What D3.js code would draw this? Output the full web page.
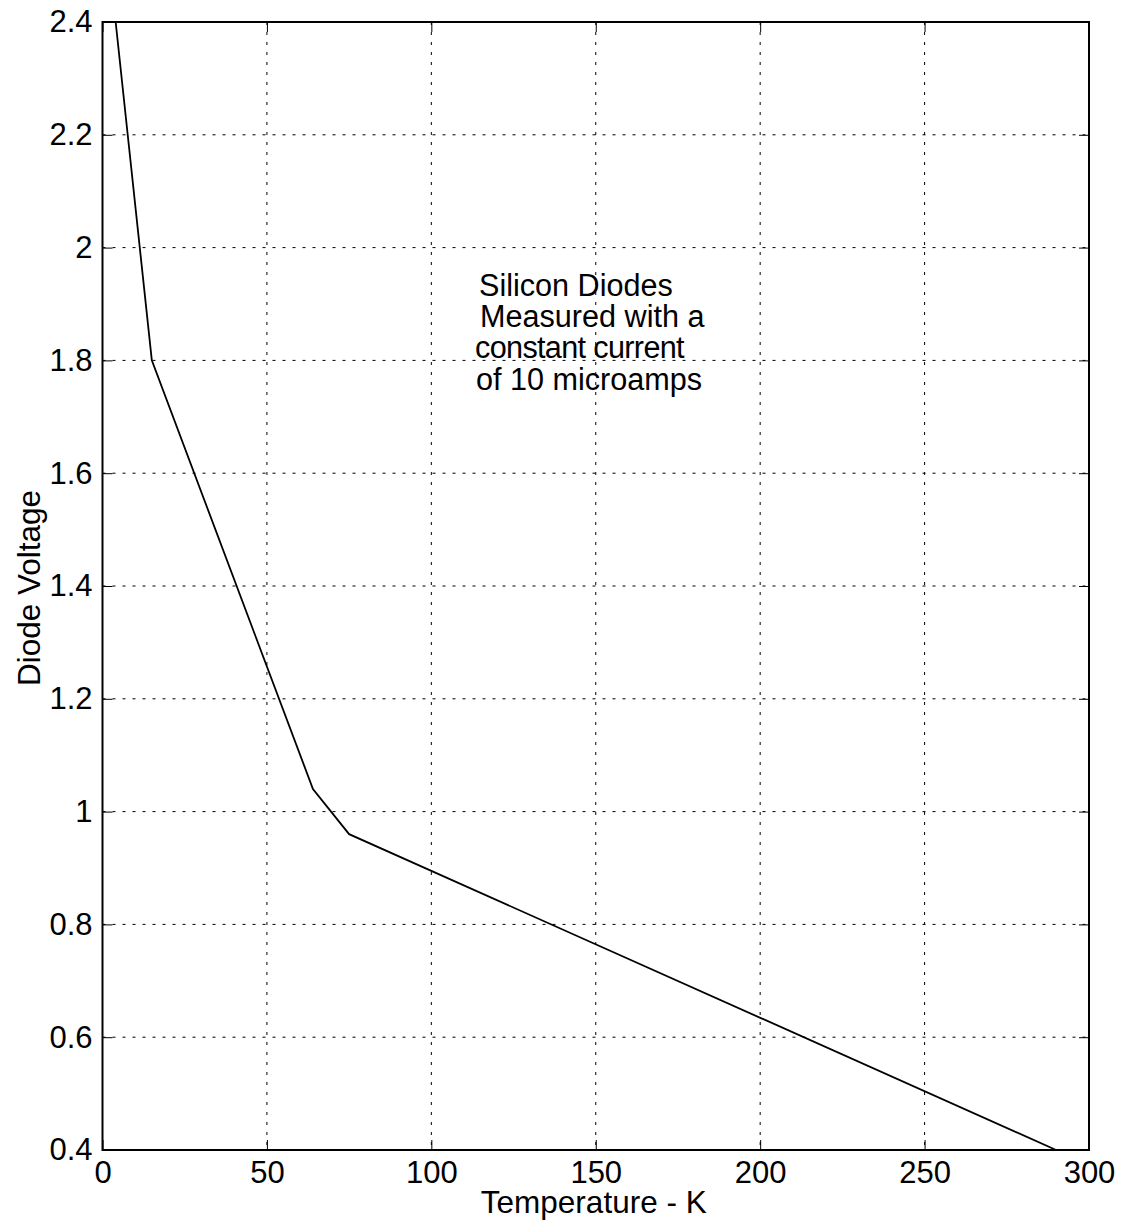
<!DOCTYPE html>
<html>
<head>
<meta charset="utf-8">
<script src="https://cdn.jsdelivr.net/npm/d3@7"></script>
<style>
  body { margin: 0; background: #fff; }
  text { font-family: "Liberation Sans", Arial, sans-serif; fill: #000; }
  .axis path { display: none; }
  .axis line { stroke: #000; stroke-width: 1; }
  .axis text { font-size: 31px; }
  .grid line { stroke: #000; stroke-width: 1; stroke-dasharray: 3,7; }
</style>
</head>
<body>
<svg id="chart"></svg>
<script>
// diode curve
const temps = [4, 15, 64, 75, 290];
const volts = [2.4, 1.8, 1.04, 0.96, 0.4];

const xTicks = [0, 50, 100, 150, 200, 250, 300];
const yTicks = [0.4, 0.6, 0.8, 1, 1.2, 1.4, 1.6, 1.8, 2, 2.2, 2.4];

const noteLines = ['Silicon Diodes', 'Measured with a', 'constant current', 'of 10 microamps'];

const W = 1125, H = 1226;
const margin = {top: 22, bottom: 76, left: 102.5, right: 36};
const width = W - margin.left - margin.right;
const height = H - margin.top - margin.bottom;

const svg = d3.select('#chart')
  .attr('width', W)
  .attr('height', H);

const g = svg.append('g')
  .attr('transform', `translate(${margin.left},${margin.top})`);

// Scales setup
const xscale = d3.scaleLinear().domain([0, 300]).range([0, width]);
const yscale = d3.scaleLinear().domain([0.4, 2.4]).range([height, 0]);

// dotted grid
g.append('g').attr('class', 'grid')
  .selectAll('line').data(xTicks.slice(1, -1)).join('line')
  .attr('x1', (d) => xscale(d)).attr('x2', (d) => xscale(d))
  .attr('y1', 0).attr('y2', height);

g.append('g').attr('class', 'grid')
  .selectAll('line').data(yTicks.slice(1, -1)).join('line')
  .attr('y1', (d) => yscale(d)).attr('y2', (d) => yscale(d))
  .attr('x1', 0).attr('x2', width);

// axes with inward ticks, matlab style
const fmt = d3.format('~g');
g.append('g').attr('class', 'axis')
  .attr('transform', `translate(0,${height})`)
  .call(d3.axisBottom(xscale).tickValues(xTicks).tickFormat(fmt).tickSize(-10).tickPadding(11));

g.append('g').attr('class', 'axis')
  .call(d3.axisTop(xscale).tickValues(xTicks).tickFormat('').tickSize(-10));

g.append('g').attr('class', 'axis')
  .call(d3.axisLeft(yscale).tickValues(yTicks).tickFormat(fmt).tickSize(-10).tickPadding(10));

g.append('g').attr('class', 'axis')
  .attr('transform', `translate(${width},0)`)
  .call(d3.axisRight(yscale).tickValues(yTicks).tickFormat('').tickSize(-10));

// frame
g.append('rect')
  .attr('width', width).attr('height', height)
  .attr('fill', 'none').attr('stroke', '#000').attr('stroke-width', 2);

// curve
const line = d3.line()
  .x((d, i) => xscale(temps[i]))
  .y((d) => yscale(d));

g.append('path')
  .datum(volts)
  .attr('d', line)
  .attr('fill', 'none')
  .attr('stroke', '#000')
  .attr('stroke-width', 1.8);

// annotation
const noteX = [479, 480, 475, 476];
svg.append('g').selectAll('text').data(noteLines).join('text')
  .attr('x', (d, i) => noteX[i])
  .attr('y', (d, i) => 296 + i * 31.2)
  .attr('font-size', 30.6)
  .attr('letter-spacing', (d, i) => i === 2 ? -0.65 : 0)
  .text((d) => d);

// axis titles
svg.append('text')
  .attr('x', margin.left + xscale(150) - 2)
  .attr('y', 1213)
  .attr('text-anchor', 'middle')
  .attr('font-size', 31.5)
  .text('Temperature - K');

svg.append('text')
  .attr('transform', 'translate(40,588) rotate(-90)')
  .attr('text-anchor', 'middle')
  .attr('font-size', 31.5)
  .text('Diode Voltage');
</script>
</body>
</html>
